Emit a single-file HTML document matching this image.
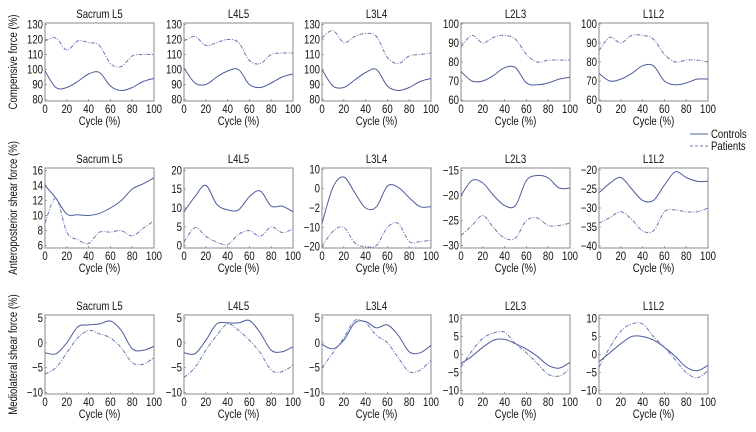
<!DOCTYPE html>
<html><head><meta charset="utf-8">
<style>
html,body{margin:0;padding:0;background:#fff;}
svg{display:block;font-family:"Liberation Sans",sans-serif;}
text{fill:#111;}
</style></head>
<body>
<svg id="fig" width="756" height="432" viewBox="0 0 756 432"></svg>
<script>
const NS="http://www.w3.org/2000/svg";
const cycleX=[0,10,20,30,40,50,60,70,80,90,100];
const xTicks=[0,20,40,60,80,100];
const panelTitles=["Sacrum L5","L4L5","L3L4","L2L3","L1L2"];
const rowTitles=["Compensive force (%)","Anteroposterior shear force (%)","Mediolateral shear force (%)"];
// row 1 compressive
const r1Controls=[[99,88,88,92,97,98,89,86,88,92,94],[101,91,90,95,99,100,90,88,91,95,97],[100,89,88,93,98,100,89,86,88,92,94],[75,70,70,73,77,77,69,68,69,71,72],[74,70,71,74,78,78,70,68,69,71,71]];
const r1Patients=[[119,121,113,119,118,116,104,102,109,110,110],[119,122,116,118,120,118,106,104,110,111,111],[121,126,118,122,124,122,108,104,109,110,111],[88,94,90,93,94,92,84,80,81,81,81],[86,93,90,94,94,92,84,80,81,81,80]];
// row 2 anteroposterior
const r2Controls=[[14,12.3,10.2,10.1,10,10.3,11,12,13.5,14.2,15],[9,13,16,11,9.5,9.5,13,14.5,10.5,10.5,9],[-11,3,7,1,-5,-4.5,3.5,3,-1,-4.5,-4.5],[-20,-17,-17.5,-20,-22,-22,-17,-16,-16.5,-18.5,-18.5],[-26,-23.5,-22,-25,-28,-28,-24,-20.5,-22,-23,-23]];
const r2Patients=[[9,12.3,7.8,6.8,6.3,7.8,7.8,8,7.3,8.3,9.3],[1,4.8,2.5,1,0.3,3,4,2.5,5,3.5,4.5],[-20,-14,-12.5,-18.5,-20,-19.5,-12.5,-11,-18,-18,-17.5],[-28,-26,-24,-26.5,-28.5,-28.5,-25,-24.5,-26,-26,-25.5],[-34,-32.5,-31,-33,-36,-36,-31,-30.5,-31,-31,-30]];
// row 3 mediolateral
const r3Controls=[[-2,-2.2,0,3.2,3.6,3.8,4.4,2.5,-1.2,-1.5,-0.7],[-2,-2.2,0.5,3.8,4,4,4.5,2,-1.5,-1.8,-0.8],[-0.3,-1.2,0.5,4,4.3,3,3.6,1.5,-1.8,-2,-0.5],[-2.5,-0.5,2,4,4.2,3,1.5,-0.5,-3,-3.8,-2.2],[-2,0.5,3,5,5,4,2,-0.5,-3.5,-4.5,-3]];
const r3Patients=[[-6.3,-5,-2,1,2.5,1.8,1,-1,-4,-4.3,-3],[-7,-5,-1.5,1.5,3.8,2.5,0.5,-2,-5.5,-5.8,-4.5],[-5,-2,1,4.5,4,1.5,0,-3,-5.8,-5.5,-3.5],[-3.5,1,4.5,6,6.2,3,0.5,-2.5,-5.5,-6,-4],[-3.5,2,6.5,8.5,8.5,5,2,-1.5,-5,-6.5,-4.5]];
// y axis ranges and ticks
const yMin=[[79,79,79,59.5,59.5],[5.7,-0.6,-20.5,-30.5,-40.5],[-10.3,-10.3,-10.3,-11,-11]];
const yMax=[[131,131,131,100.5,100.5],[16.3,20.6,10.5,-14.5,-19.5],[5.6,5.6,5.6,11,11]];
const yTickVals=[
 [[80,90,100,110,120,130],[80,90,100,110,120,130],[80,90,100,110,120,130],[60,70,80,90,100],[60,70,80,90,100]],
 [[6,8,10,12,14,16],[0,5,10,15,20],[-20,-12.5,-5,2.5,10],[-30,-25,-20,-15],[-40,-35,-30,-25,-20]],
 [[-10,-5,0,5],[-10,-5,0,5],[-10,-5,0,5],[-10,-5,0,5,10],[-10,-5,0,5,10]]];
const yTickLabels=[
 [["80","90","100","110","120","130"],["80","90","100","110","120","130"],["80","90","100","110","120","130"],["60","70","80","90","100"],["60","70","80","90","100"]],
 [["6","8","10","12","14","16"],["0","5","10","15","20"],["−20","−10","−2","0","10"],["−30","−25","−20","−15"],["−40","−35","−30","−25","−20"]],
 [["−10","−5","0","5"],["−10","−5","0","5"],["−10","−5","0","5"],["−10","−5","0","5","10"],["−10","−5","0","5","10"]]];
const controlsData=[r1Controls,r2Controls,r3Controls];
const patientsData=[r1Patients,r2Patients,r3Patients];

const svg=document.getElementById('fig');
function mk(tag,attrs,parent){const e=document.createElementNS(NS,tag);for(const k in attrs)e.setAttribute(k,attrs[k]);(parent||svg).appendChild(e);return e;}
function txt(x,y,anchor,size,parent,extra){
  return mk('text',{x:0,y:0,'font-size':size,'text-anchor':anchor,transform:`translate(${x},${y}) ${extra||''} scale(0.8,1)`},parent);
}
const panelLeft=[45,184,322,461,599], panelW=109;
const rowTop=[23,168,315], rowBot=[101,248,394];
function smoothPath(pts){
  let d="M"+pts[0][0].toFixed(1)+","+pts[0][1].toFixed(1);
  for(let i=0;i<pts.length-1;i++){
    const p0=pts[i-1]||pts[i],p1=pts[i],p2=pts[i+1],p3=pts[i+2]||p2;
    const c1=[p1[0]+(p2[0]-p0[0])/6,p1[1]+(p2[1]-p0[1])/6];
    const c2=[p2[0]-(p3[0]-p1[0])/6,p2[1]-(p3[1]-p1[1])/6];
    d+="C"+c1[0].toFixed(1)+","+c1[1].toFixed(1)+" "+c2[0].toFixed(1)+","+c2[1].toFixed(1)+" "+p2[0].toFixed(1)+","+p2[1].toFixed(1);
  }
  return d;
}
for(let r=0;r<3;r++){
  const yt=txt(17,(rowTop[r]+rowBot[r])/2,'middle',12,svg,'rotate(-90)');
  yt.textContent=rowTitles[r];
  
  
  for(let c=0;c<5;c++){
    const g=mk('g',{});
    
    
    const L=panelLeft[c],R=L+panelW,T=rowTop[r],B=rowBot[r];
    const xs=v=>L+(v/100)*panelW;
    const ys=v=>B-(v-yMin[r][c])/(yMax[r][c]-yMin[r][c])*(B-T);
    const box=mk('rect',{x:L,y:T,width:panelW,height:B-T,fill:'none',stroke:'#8a8a8a','stroke-width':1},g);
    
    
    const t=txt((L+R)/2,T-5,'middle',12,g);
    t.textContent=panelTitles[c];
    
    
    xTicks.forEach(v=>{
      mk('line',{x1:xs(v),x2:xs(v),y1:B,y2:B-2,stroke:'#8a8a8a','stroke-width':0.8},g);
      const tx=txt(xs(v),B+12,'middle',12,g);
      tx.textContent=String(v);
      
      
    });
    const xl=txt((L+R)/2,B+24,'middle',12,g);
    xl.textContent="Cycle (%)";
    
    
    yTickVals[r][c].forEach((v,i)=>{
      mk('line',{x1:L,x2:L+2,y1:ys(v),y2:ys(v),stroke:'#8a8a8a','stroke-width':0.8},g);
      const ty=txt(L-2,ys(v)+4,'end',12,g);
      ty.textContent=yTickLabels[r][c][i];
      
      
    });
    const cp=mk('path',{d:smoothPath(cycleX.map((x,i)=>[xs(x),ys(controlsData[r][c][i])])),fill:'none',stroke:'#4d5c9e','stroke-width':1},g);
    
    
    const pp=mk('path',{d:smoothPath(cycleX.map((x,i)=>[xs(x),ys(patientsData[r][c][i])])),fill:'none',stroke:'#6a78b4','stroke-width':1,'stroke-dasharray':'4 1.5 1 1.5'},g);
    
    
  }
}
const lg=mk('g',{});


mk('line',{x1:690,x2:708,y1:134,y2:134,stroke:'#4d5c9e','stroke-width':1},lg);
const l1=txt(711,138,'start',12,lg);
l1.textContent="Controls";


mk('line',{x1:690,x2:708,y1:146,y2:146,stroke:'#6a78b4','stroke-width':1,'stroke-dasharray':'3 2'},lg);
const l2=txt(711,150,'start',12,lg);
l2.textContent="Patients";


</script>
</body></html>
